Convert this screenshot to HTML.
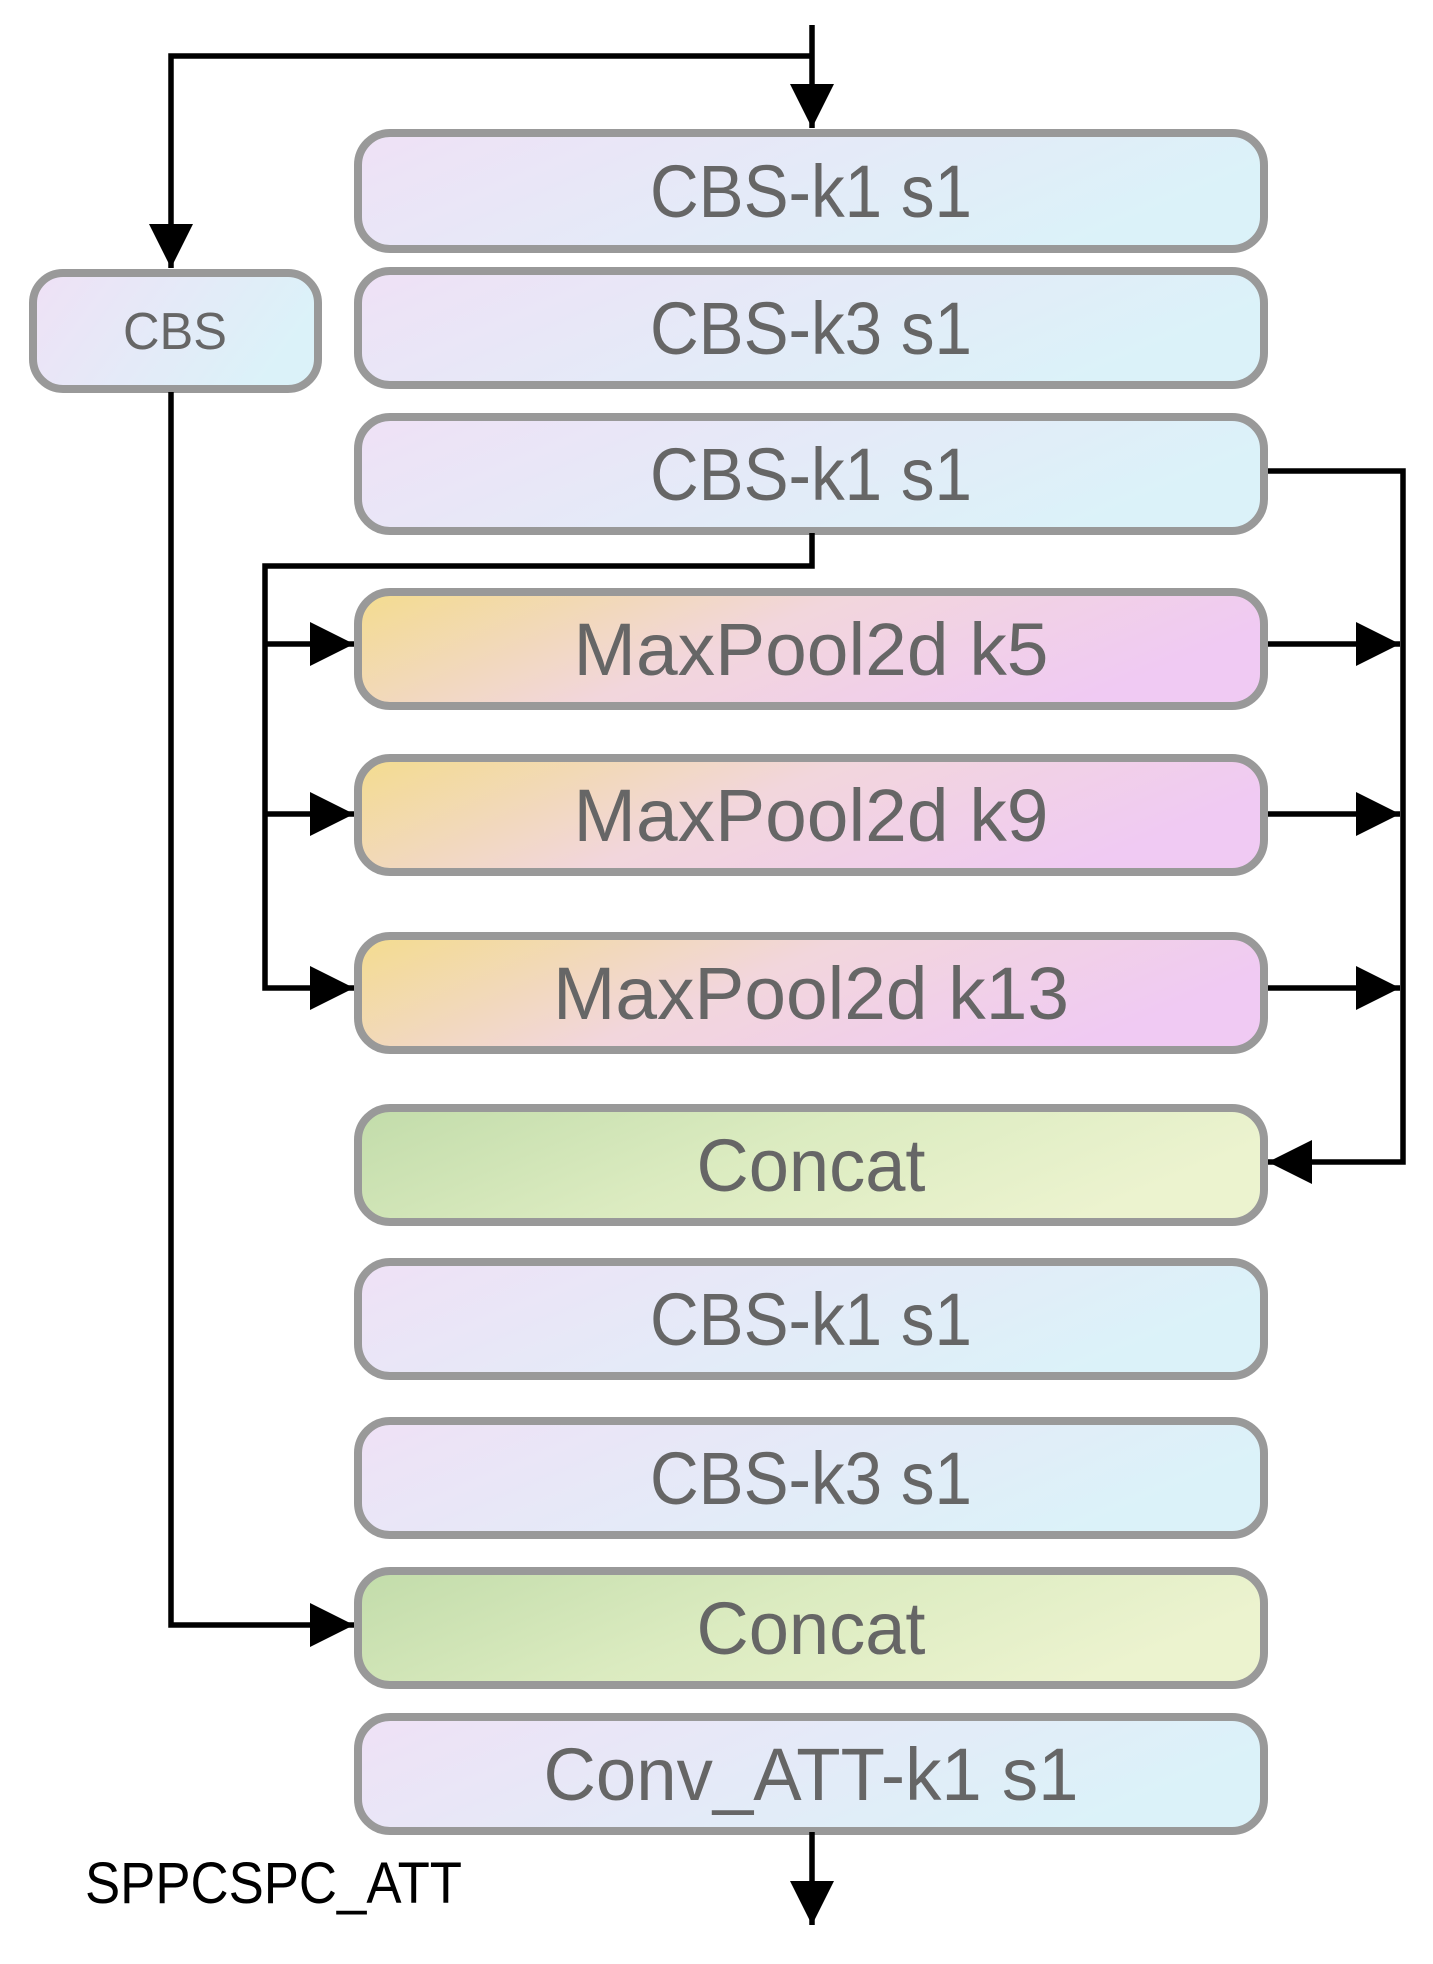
<!DOCTYPE html>
<html><head><meta charset="utf-8"><style>html,body{margin:0;padding:0;background:#fff}svg{display:block}</style></head>
<body>
<svg width="1433" height="1964" viewBox="0 0 1433 1964" xmlns="http://www.w3.org/2000/svg">
<defs>
<linearGradient id="b" x1="0" y1="0" x2="1" y2="0.3"><stop offset="0" stop-color="#efe1f6"/><stop offset="1" stop-color="#dbf2f9"/></linearGradient>
<linearGradient id="m" x1="0" y1="0" x2="1" y2="0.3"><stop offset="0" stop-color="#f3dc8e"/><stop offset="0.5" stop-color="#f2d6dc"/><stop offset="1" stop-color="#f0caf3"/></linearGradient>
<linearGradient id="c" x1="0" y1="0" x2="1" y2="0.3"><stop offset="0" stop-color="#c2dcaa"/><stop offset="0.5" stop-color="#dbebc0"/><stop offset="1" stop-color="#ecf3cf"/></linearGradient>
<marker id="a" viewBox="0 0 10 10" refX="10" refY="5" markerWidth="8" markerHeight="8" markerUnits="strokeWidth" orient="auto"><path d="M0,0L10,5L0,10z" fill="#000"/></marker>
</defs>
<g stroke="#999" stroke-width="8" font-family="Liberation Sans, sans-serif" font-size="74" fill="#666">
<rect x="358" y="133" width="906" height="116" rx="32" fill="url(#b)"/>
<rect x="358" y="271" width="906" height="114" rx="32" fill="url(#b)"/>
<rect x="358" y="417" width="906" height="114" rx="32" fill="url(#b)"/>
<rect x="358" y="592" width="906" height="114" rx="32" fill="url(#m)"/>
<rect x="358" y="758" width="906" height="114" rx="32" fill="url(#m)"/>
<rect x="358" y="936" width="906" height="114" rx="32" fill="url(#m)"/>
<rect x="358" y="1108" width="906" height="114" rx="32" fill="url(#c)"/>
<rect x="358" y="1262" width="906" height="114" rx="32" fill="url(#b)"/>
<rect x="358" y="1421" width="906" height="114" rx="32" fill="url(#b)"/>
<rect x="358" y="1571" width="906" height="114" rx="32" fill="url(#c)"/>
<rect x="358" y="1717" width="906" height="114" rx="32" fill="url(#b)"/>
<rect x="33" y="273" width="285" height="116" rx="30" fill="url(#b)"/>
</g>
<g font-family="Liberation Sans, sans-serif" font-size="74" fill="#666" text-anchor="middle">
<text x="811" y="217" textLength="322" lengthAdjust="spacingAndGlyphs">CBS-k1 s1</text>
<text x="811" y="354" textLength="322" lengthAdjust="spacingAndGlyphs">CBS-k3 s1</text>
<text x="811" y="500" textLength="322" lengthAdjust="spacingAndGlyphs">CBS-k1 s1</text>
<text x="811" y="675" textLength="475" lengthAdjust="spacingAndGlyphs">MaxPool2d k5</text>
<text x="811" y="841" textLength="475" lengthAdjust="spacingAndGlyphs">MaxPool2d k9</text>
<text x="811" y="1019" textLength="516" lengthAdjust="spacingAndGlyphs">MaxPool2d k13</text>
<text x="811" y="1191" textLength="229" lengthAdjust="spacingAndGlyphs">Concat</text>
<text x="811" y="1345" textLength="322" lengthAdjust="spacingAndGlyphs">CBS-k1 s1</text>
<text x="811" y="1504" textLength="322" lengthAdjust="spacingAndGlyphs">CBS-k3 s1</text>
<text x="811" y="1654" textLength="229" lengthAdjust="spacingAndGlyphs">Concat</text>
<text x="811" y="1800" textLength="535" lengthAdjust="spacingAndGlyphs">Conv_ATT-k1 s1</text>
<text x="175" y="349" font-size="52" textLength="104" lengthAdjust="spacingAndGlyphs">CBS</text>
</g>
<text x="85" y="1903" font-family="Liberation Sans, sans-serif" font-size="58" fill="#000" textLength="377" lengthAdjust="spacingAndGlyphs">SPPCSPC_ATT</text>
<g stroke="#000" stroke-width="5.5" fill="none">
<path d="M812 25V128" marker-end="url(#a)"/>
<path d="M812 56H171V268" marker-end="url(#a)"/>
<path d="M171 392V1625H354" marker-end="url(#a)"/>
<path d="M812 533V566H265V988H354" marker-end="url(#a)"/>
<path d="M265 644H354" marker-end="url(#a)"/>
<path d="M265 814H354" marker-end="url(#a)"/>
<path d="M1268 471H1403V1162H1268" marker-end="url(#a)"/>
<path d="M1268 644H1400" marker-end="url(#a)"/>
<path d="M1268 814H1400" marker-end="url(#a)"/>
<path d="M1268 988H1400" marker-end="url(#a)"/>
<path d="M812 1832V1925" marker-end="url(#a)"/>
</g>
</svg>
</body></html>
